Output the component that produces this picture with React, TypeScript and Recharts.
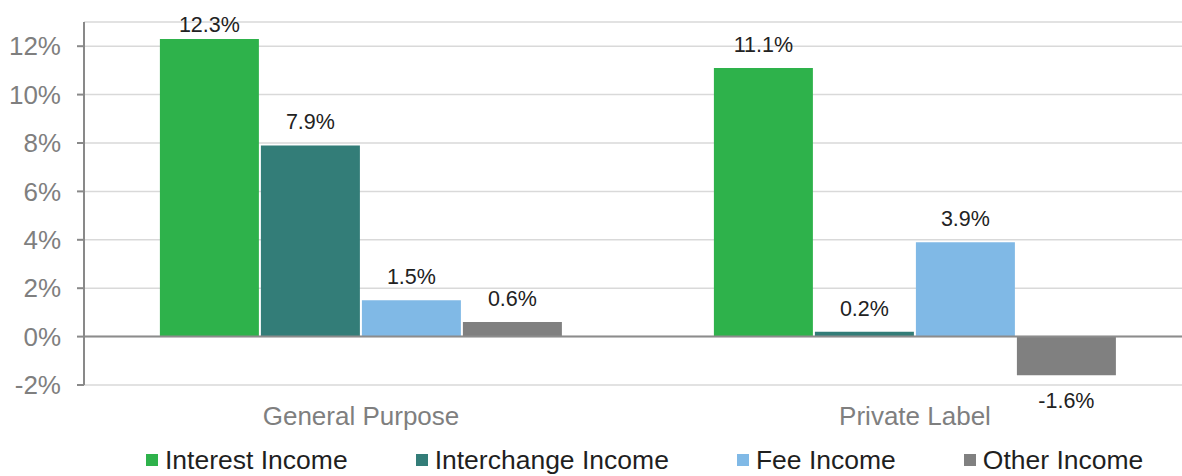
import React from "react";
import {
  BarChart,
  Bar,
  XAxis,
  YAxis,
  CartesianGrid,
  ReferenceLine,
  LabelList
} from "recharts";

const categories = ["General Purpose", "Private Label"];
const interestIncome = [12.3, 11.1];
const interchangeIncome = [7.9, 0.2];
const feeIncome = [1.5, 3.9];
const otherIncome = [0.6, -1.6];
const yTicks = [-2, 0, 2, 4, 6, 8, 10, 12];

const series = [
  { key: "interest", label: "Interest Income", color: "#2EB24B", values: interestIncome },
  { key: "interchange", label: "Interchange Income", color: "#337D78", values: interchangeIncome },
  { key: "fee", label: "Fee Income", color: "#80B9E6", values: feeIncome },
  { key: "other", label: "Other Income", color: "#808080", values: otherIncome }
];

const data = categories.map((name, i) => {
  const row: any = { name };
  series.forEach((s) => {
    row[s.key] = s.values[i];
  });
  return row;
});

const FONT = '"Liberation Sans", Arial, sans-serif';

const renderValueLabel = (props: any) => {
  const vb = props.viewBox || props;
  const x = vb.x ?? props.x;
  const y = vb.y ?? props.y;
  const width = vb.width ?? props.width;
  const height = vb.height ?? props.height;
  const value = props.value;
  const top = Math.min(y, y + height);
  const bottom = Math.max(y, y + height);
  const cx = x + width / 2;
  // labels sit above positive bars, below negative ones; clamp at the top edge
  const ty = value >= 0 ? Math.max(top - 16, 32) : bottom + 33;
  return (
    <text
      x={cx}
      y={ty}
      textAnchor="middle"
      fill="#222"
      fontSize={21.5}
      fontFamily={FONT}
    >
      {value.toFixed(1)}%
    </text>
  );
};

const App: React.FC = () => {
  return (
    <div
      style={{
        position: "fixed",
        left: 0,
        top: 0,
        width: 1182,
        height: 476,
        overflow: "hidden",
        background: "#fff",
        fontFamily: FONT
      }}
    >
      <BarChart
        width={1192}
        height={476}
        data={data}
        margin={{ top: 22, right: 0, left: 0, bottom: 0 }}
        barCategoryGap="13.7%"
        barGap={2}
      >
        <CartesianGrid
          vertical={false}
          stroke="#d9d9d9"
          strokeWidth={1.5}
        />
        <XAxis
          dataKey="name"
          axisLine={false}
          tickLine={false}
          tickSize={0}
          tickMargin={22}
          height={91}
          tick={{ fill: "#7f7f7f", fontSize: 26, fontFamily: FONT }}
        />
        {/* hidden numeric axis, only used to place the divider tick between groups */}
        <XAxis xAxisId="divider" type="number" domain={[0, 2]} hide />
        <YAxis
          width={84}
          domain={[-2, 13]}
          ticks={yTicks}
          interval={0}
          tickFormatter={(v: number) => `${v}%`}
          axisLine={{ stroke: "#898989", strokeWidth: 2 }}
          tickLine={{ stroke: "#898989", strokeWidth: 2 }}
          tickSize={7}
          tickMargin={16}
          tick={{ fill: "#7f7f7f", fontSize: 26, fontFamily: FONT }}
        />
        {series.map((s) => (
          <Bar
            key={s.key}
            dataKey={s.key}
            name={s.label}
            fill={s.color}
            isAnimationActive={false}
          >
            <LabelList dataKey={s.key} content={renderValueLabel} />
          </Bar>
        ))}
        <ReferenceLine y={0} stroke="#8c8c8c" strokeWidth={2} />
        <ReferenceLine
          xAxisId="divider"
          segment={[
            { x: 1, y: 0 },
            { x: 1, y: -0.3 }
          ]}
          stroke="#8c8c8c"
          strokeWidth={1.5}
        />
      </BarChart>
      <div
        style={{
          position: "absolute",
          left: 146,
          top: 447,
          display: "flex",
          alignItems: "center",
          fontSize: 26.5,
          lineHeight: "26px",
          color: "#1f1f1f",
          whiteSpace: "nowrap"
        }}
      >
        {series.map((s, i) => (
          <div
            key={s.key}
            style={{
              display: "flex",
              alignItems: "center",
              marginRight: i < series.length - 1 ? 68 : 0
            }}
          >
            <span
              style={{
                display: "inline-block",
                width: 12,
                height: 12,
                background: s.color,
                marginRight: 7
              }}
            />
            <span>{s.label}</span>
          </div>
        ))}
      </div>
    </div>
  );
};

export default App;
